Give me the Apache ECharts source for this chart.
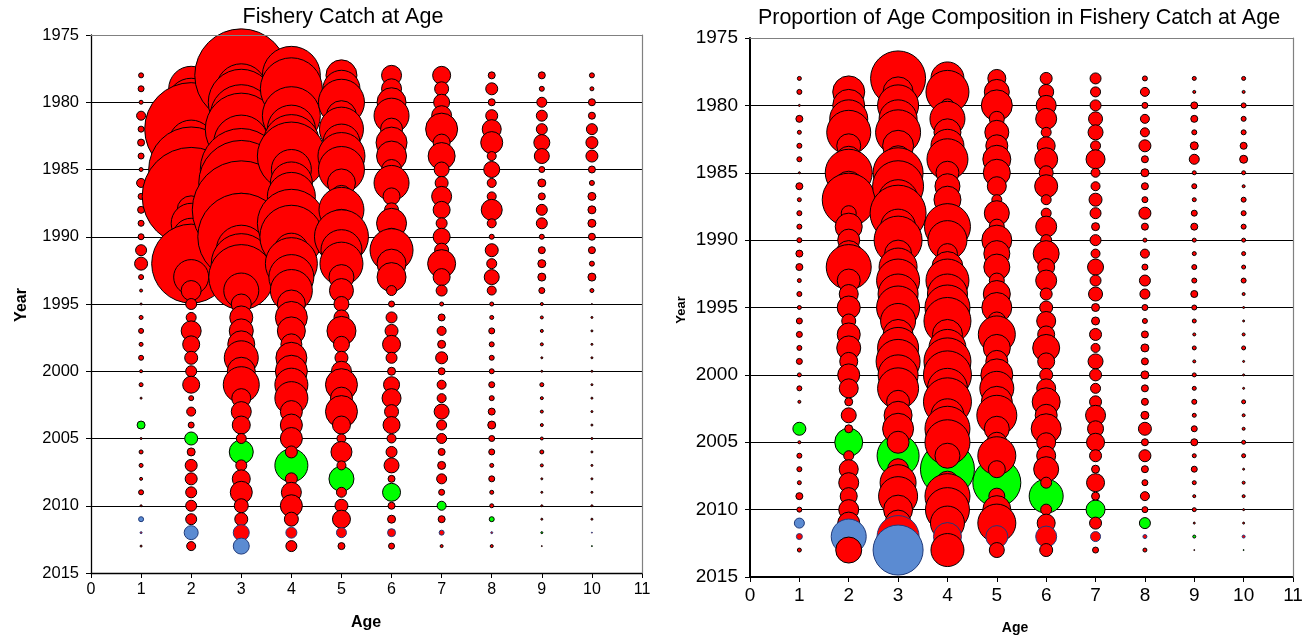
<!DOCTYPE html>
<html>
<head>
<meta charset="utf-8">
<script src="https://cdn.jsdelivr.net/npm/echarts@6/dist/echarts.min.js"></script>
<style>
html,body{margin:0;padding:0;background:#ffffff;}
#c{width:1316px;height:639px;}
</style>
</head>
<body>
<div id="c"></div>
<script>
// ---------------- DATA (relative bubble-area units) ----------------
const years = [1978,1979,1980,1981,1982,1983,1984,1985,1986,1987,1988,1989,1990,1991,1992,1993,1994,1995,1996,1997,1998,1999,2000,2001,2002,2003,2004,2005,2006,2007,2008,2009,2010,2011,2012,2013];
const ages = [1,2,3,4,5,6,7,8,9,10];
const yearTicks = [1975,1980,1985,1990,1995,2000,2005,2010,2015];
const ageTicks = [0,1,2,3,4,5,6,7,8,9,10,11];

// Left panel: fishery catch at age (one array per age, years 1978..2013)
const catchAge1  = [25,36,16,81,36,49,36,16,81,36, 49,36,36,121,169,25,9,4,16,25, 16,25,9,16,4,0,64,4,16,16, 9,25,4,25,4,4];
const catchAge2  = [100,2025,2304,3844,8649,2025,2025,7225,2500,9604, 784,1600,1369,1600,6241,1225,400,121,100,400, 289,169,121,289,25,81,36,169,64,144, 144,121,121,121,196,81];
const catchAge3  = [8649,2500,4356,3844,5184,3025,2304,6724,7225,4624, 9604,3600,7569,2500,3600,4225,1225,400,529,576, 729,1156,784,1296,361,400,324,100,576,121, 324,484,196,169,256,256];
const catchAge4  = [3364,3844,576,3364,2304,3136,4624,1600,1764,2304, 1024,4624,3969,1156,2704,2025,1764,784,1024,784, 441,961,1024,1089,1089,484,484,484,144,1089, 144,400,484,196,121,121];
const catchAge5  = [961,1369,2116,900,1936,1369,2209,2116,784,484, 2025,784,2916,1681,1849,625,576,225,225,841, 256,169,400,1024,484,1024,324,81,441,81, 625,100,169,324,100,49];
const catchAge6  = [400,400,841,1225,484,961,900,400,1225,289, 196,900,289,1849,841,841,100,36,121,169, 324,121,64,256,361,196,289,81,121,225, 49,324,49,64,64,36];
const catchAge7  = [324,196,256,400,1024,289,729,225,169,400, 289,121,289,196,784,289,121,16,49,81, 64,144,49,81,81,225,100,100,49,64, 100,36,81,49,25,9];
const catchAge8  = [49,144,49,144,361,484,81,256,81,81, 441,81,25,169,100,225,81,16,16,36, 25,25,25,36,25,49,64,36,36,16, 36,16,16,25,4,9];
const catchAge9  = [49,25,100,121,121,256,225,36,64,49, 121,121,25,49,64,64,36,9,9,9, 9,4,4,16,9,9,9,9,16,9, 4,4,4,4,4,1];
const catchAge10 = [25,16,49,49,121,144,144,49,25,64, 64,64,49,49,25,64,16,1,4,4, 4,4,4,4,4,4,4,4,4,4, 4,4,4,4,1,1];

// Right panel: proportion of age composition in the catch
const propAge1  = [16,25,4,49,16,25,25,4,49,16, 25,25,25,49,49,16,25,16,36,36, 25,36,16,25,9,0,169,9,25,25, 16,49,25,100,36,16];
const propAge2  = [16,1024,1024,1444,1936,576,676,2209,900,2809, 225,729,484,676,2025,529,361,529,196,529, 576,324,484,361,64,225,64,784,100,361, 400,289,400,484,1225,676];
const propAge3  = [3025,900,1681,1444,2025,961,729,2500,2601,1600, 3136,1225,2304,729,1444,1849,1600,1849,1225,900, 1681,1936,1600,1681,529,784,961,484,1764,441, 1296,1521,841,676,1764,2500];
const propAge4  = [1089,1849,169,1225,729,1089,1681,529,625,729, 324,2116,1521,400,961,1849,1600,2025,2209,900, 1369,2209,2304,1600,2304,1089,2025,2025,625,2916, 529,2025,1936,1156,784,1089];
const propAge5  = [324,625,961,225,576,484,784,729,361,100, 625,225,900,676,676,225,729,900,324,1369, 729,484,1024,1156,961,1600,625,400,1444,289, 2304,256,784,1444,484,225];
const propAge6  = [144,225,400,441,100,324,529,196,529,100, 100,441,121,676,289,441,144,169,361,289, 729,289,169,361,784,484,900,361,361,625, 121,1156,121,324,441,169];
const propAge7  = [121,100,121,196,225,100,361,81,81,169, 121,64,121,81,256,121,196,64,64,144, 81,225,144,100,144,400,256,324,144,64, 324,64,361,144,100,36];
const propAge8  = [25,81,36,81,81,144,49,64,49,36, 144,49,16,81,36,121,100,36,25,49, 64,49,64,49,49,64,169,49,144,49, 36,81,36,121,16,16];
const propAge9  = [16,9,49,49,25,64,100,16,25,16, 36,49,16,16,25,25,49,25,16,9, 16,9,16,16,25,16,36,49,16,36, 16,9,16,4,9,1];
const propAge10 = [16,9,25,25,25,49,64,16,9,25, 25,25,16,16,16,25,9,4,4,9, 16,4,4,4,16,9,9,16,16,4, 9,9,4,4,9,1];

const catchTable = [catchAge1,catchAge2,catchAge3,catchAge4,catchAge5,catchAge6,catchAge7,catchAge8,catchAge9,catchAge10];
const propTable  = [propAge1,propAge2,propAge3,propAge4,propAge5,propAge6,propAge7,propAge8,propAge9,propAge10];

// ---------------- BUILD ----------------
const FONT = "'Liberation Sans', Arial, sans-serif";
const RED = '#FF0000', GREEN = '#00FF00', BLUE = '#5B8BD2', NAVY = '#1F3A7A';

function buildPoints(table){
  const green = [], other = [];
  table.forEach(function(arr, ai){
    const age = ages[ai];
    arr.forEach(function(v, yi){
      const year = years[yi];
      const cohort = year - age;
      if (cohort === 2003) {
        green.push({value:[age, year, v], itemStyle:{color:GREEN, borderColor:'#000'}});
      } else if (cohort === 2010) {
        other.push({value:[age, year, v], itemStyle:{color:BLUE, borderColor:NAVY}});
      } else if (year === 2012) {
        other.push({value:[age, year, v], itemStyle:{color:RED, borderColor:NAVY}});
      } else {
        other.push({value:[age, year, v]});
      }
    });
  });
  return {green:green, other:other};
}

const leftPts = buildPoints(catchTable);
const rightPts = buildPoints(propTable);

function sizeFn(val){ return Math.sqrt(val[2]); }

function bubbleSeries(data, gi){
  return {
    type:'scatter', xAxisIndex: gi*2, yAxisIndex: gi*2, data:data,
    symbol:'circle', symbolSize:sizeFn, clip:true, silent:true,
    itemStyle:{color:RED, borderColor:'#000', borderWidth:1, opacity:1},
    emphasis:{disabled:true}
  };
}

function plain(v){ return String(v); }

function mainX(gi, fs, axW){
  return {
    gridIndex:gi, type:'value', min:ageTicks[0], max:ageTicks[ageTicks.length-1], interval:1,
    axisLine:{show:true, onZero:false, lineStyle:{color:'#000', width:axW}},
    axisTick:{show:true, inside:false, length:5, lineStyle:{color:'#000', width:1}},
    axisLabel:{show:true, color:'#000', fontSize:fs, fontFamily:FONT, margin:9, formatter:plain},
    splitLine:{show:false}
  };
}
function borderX(gi){
  return {
    gridIndex:gi, type:'value', position:'top', min:0, max:11, z:5,
    axisLine:{show:true, onZero:false, lineStyle:{color:'#808080', width:1.2}},
    axisTick:{show:false}, axisLabel:{show:false}, splitLine:{show:false}
  };
}
function mainY(gi, fs, axW){
  return {
    gridIndex:gi, type:'value', inverse:true, min:yearTicks[0], max:yearTicks[yearTicks.length-1], interval:5,
    axisLine:{show:true, onZero:false, lineStyle:{color:'#000', width:axW}},
    axisTick:{show:true, inside:false, length:5, lineStyle:{color:'#000', width:1}},
    axisLabel:{show:true, color:'#000', fontSize:fs, fontFamily:FONT, margin:12, formatter:plain},
    splitLine:{show:true, lineStyle:{color:'#000', width:1.2}}
  };
}
function borderY(gi){
  return {
    gridIndex:gi, type:'value', position:'right', inverse:true, min:1975, max:2015, z:5,
    axisLine:{show:true, onZero:false, lineStyle:{color:'#808080', width:1.2}},
    axisTick:{show:false}, axisLabel:{show:false}, splitLine:{show:false}
  };
}

const option = {
  animation:false,
  backgroundColor:'#ffffff',
  grid:[
    {left:91, top:35, width:551, height:538},
    {left:750, top:38, width:543, height:539}
  ],
  xAxis:[ mainX(0,16,1.3), borderX(0), mainX(1,19,2), borderX(1) ],
  yAxis:[ mainY(0,16.5,1.3), borderY(0), mainY(1,19,2), borderY(1) ],
  series:[
    bubbleSeries(leftPts.green, 0),
    bubbleSeries(leftPts.other, 0),
    bubbleSeries(rightPts.green, 1),
    bubbleSeries(rightPts.other, 1)
  ],
  graphic:[
    {type:'text', x:343, y:17, style:{text:'Fishery Catch at Age', font:'21.5px '+FONT, fill:'#000', textAlign:'center', textVerticalAlign:'middle'}},
    {type:'text', x:1019, y:18, style:{text:'Proportion of Age Composition in Fishery Catch at Age', font:'21.5px '+FONT, fill:'#000', textAlign:'center', textVerticalAlign:'middle'}},
    {type:'text', x:22, y:305, rotation:Math.PI/2, style:{text:'Year', font:'bold 16px '+FONT, fill:'#000', textAlign:'center', textVerticalAlign:'middle'}},
    {type:'text', x:366, y:623, style:{text:'Age', font:'bold 16px '+FONT, fill:'#000', textAlign:'center', textVerticalAlign:'middle'}},
    {type:'text', x:681, y:310, rotation:Math.PI/2, style:{text:'Year', font:'bold 13px '+FONT, fill:'#000', textAlign:'center', textVerticalAlign:'middle'}},
    {type:'text', x:1015, y:628, style:{text:'Age', font:'bold 14px '+FONT, fill:'#000', textAlign:'center', textVerticalAlign:'middle'}}
  ]
};

const chart = echarts.init(document.getElementById('c'), null, {renderer:'canvas'});
chart.setOption(option);
</script>
</body>
</html>
